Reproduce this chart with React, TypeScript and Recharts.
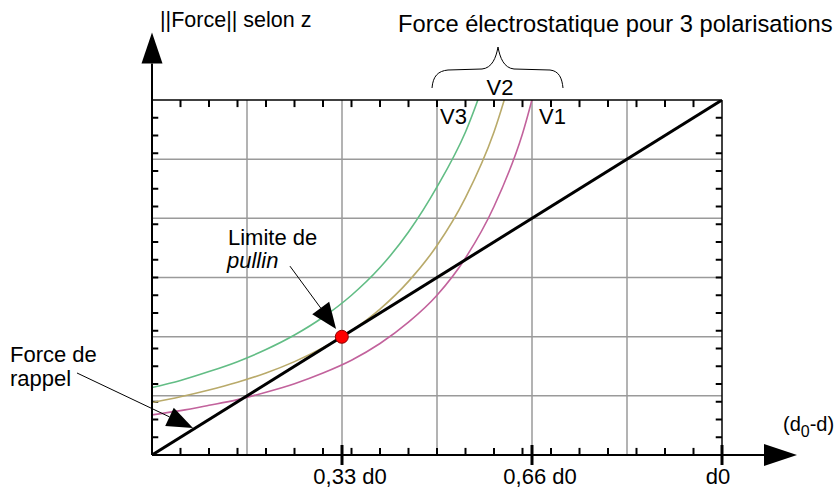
import React from 'react';
import {
  LineChart,
  Line,
  XAxis,
  YAxis,
  CartesianGrid,
  ReferenceLine,
  ReferenceDot,
} from 'recharts';

// positions along (d0 - d), as a fraction of d0
const xSteps = [0, 0.05, 0.1, 0.15, 0.2, 0.25, 0.3, 0.35, 0.4, 0.45, 0.5, 0.55, 0.6, 0.65, 0.7];
// electrostatic force for the three polarisations
const forceV3 = [0.19, 0.21, 0.235, 0.263, 0.297, 0.338, 0.388, 0.45, 0.528, 0.628, 0.755, 0.91, 1.13, null, null];
const forceV2 = [0.148, 0.164, 0.183, 0.205, 0.231, 0.263, 0.302, 0.35, 0.411, 0.489, 0.59, 0.725, 0.91, 1.18, null];
const forceV1 = [0.113, 0.125, 0.14, 0.156, 0.177, 0.201, 0.231, 0.267, 0.314, 0.374, 0.45, 0.555, 0.7, 0.905, 1.22];
// spring force (force de rappel)
const rappelX = [0, 1];
const rappelY = [0, 1];
// pull-in point
const pullinX = 0.333;
const pullinY = 0.333;

const gridSteps = [1 / 6, 2 / 6, 3 / 6, 4 / 6, 5 / 6];
const minorTicks = [0.05, 0.1, 0.15, 0.2, 0.25, 0.3, 0.35, 0.4, 0.45, 0.5, 0.55, 0.6, 0.65, 0.7, 0.75, 0.8, 0.85, 0.9, 0.95];
const majorTicks = [1 / 3, 2 / 3, 1];
const majorLabels = ['0,33 d0', '0,66 d0', 'd0'];

const curveData = xSteps.map((x, i) => ({ x, v1: forceV1[i], v2: forceV2[i], v3: forceV3[i] }));
const rappelData = rappelX.map((x, i) => ({ x, f: rappelY[i] }));

// inward tick length, as a fraction of each axis span
const TICK_X = 0.02;
const TICK_Y = 0.011;

const FONT = '"Liberation Sans", Arial, sans-serif';
const GRID = '#9a9a9a';

const renderMajorTick = (props: any) => {
  const { x, y, payload } = props;
  const mi = majorTicks.findIndex((m) => Math.abs(m - payload.value) < 1e-6);
  const dx = mi === 2 ? -4 : 8;
  return (
    <g>
      <line x1={x} y1={y - 10} x2={x} y2={y + 10} stroke="#000" strokeWidth={3} />
      <text x={x + dx} y={y + 29} textAnchor="middle" fontSize={22} fontFamily={FONT} fill="#000">
        {majorLabels[mi]}
      </text>
    </g>
  );
};

// short inward tick mark
const tickShape = (props: any) => (
  <g>
    <line x1={props.x1} y1={props.y1} x2={props.x2} y2={props.y2} stroke="#000" strokeWidth={2} />
  </g>
);

// line with a filled triangular head at its end
function arrow(headLen: number, headWidth: number, width: number) {
  return (props: any) => {
    const { x1, y1, x2, y2 } = props;
    const len = Math.hypot(x2 - x1, y2 - y1) || 1;
    const ux = (x2 - x1) / len;
    const uy = (y2 - y1) / len;
    const bx = x2 - ux * headLen;
    const by = y2 - uy * headLen;
    const px = (-uy * headWidth) / 2;
    const py = (ux * headWidth) / 2;
    return (
      <g>
        <line x1={x1} y1={y1} x2={bx} y2={by} stroke="#000" strokeWidth={width} />
        <polygon points={`${x2},${y2} ${bx + px},${by + py} ${bx - px},${by - py}`} fill="#000" />
      </g>
    );
  };
}

export default function App() {
  return (
    <div style={{ position: 'absolute', left: 0, top: 0, width: 838, height: 490, background: '#fff' }}>
      <LineChart
        width={838}
        height={490}
        margin={{ top: 100, right: 116, bottom: 35, left: 152 }}
      >
        <CartesianGrid
          stroke={GRID}
          strokeWidth={1.5}
          verticalCoordinatesGenerator={({ offset }: any) => gridSteps.map((v) => offset.left + offset.width * v)}
          horizontalCoordinatesGenerator={({ offset }: any) => gridSteps.map((v) => offset.top + offset.height * v)}
        />
        <XAxis
          dataKey="x"
          type="number"
          domain={[0, 1]}
          allowDataOverflow
          ticks={majorTicks}
          interval={0}
          mirror
          tickSize={0}
          tickMargin={0}
          tickLine={false}
          tick={renderMajorTick}
          axisLine={{ stroke: '#000', strokeWidth: 2 }}
        />
        <XAxis
          xAxisId="top"
          dataKey="x"
          orientation="top"
          type="number"
          domain={[0, 1]}
          allowDataOverflow
          mirror
          tick={false}
          tickLine={false}
          axisLine={{ stroke: '#000', strokeWidth: 1.5 }}
        />
        <YAxis
          type="number"
          domain={[0, 1]}
          allowDataOverflow
          mirror
          tick={false}
          tickLine={false}
          axisLine={{ stroke: '#000', strokeWidth: 2 }}
        />
        <YAxis
          yAxisId="right"
          orientation="right"
          type="number"
          domain={[0, 1]}
          allowDataOverflow
          mirror
          tick={false}
          tickLine={false}
          axisLine={{ stroke: '#000', strokeWidth: 1.5 }}
        />
        {minorTicks.map((v) => (
          <ReferenceLine key={`b${v}`} segment={[{ x: v, y: 0 }, { x: v, y: TICK_X }]} ifOverflow="visible" shape={tickShape} />
        ))}
        {minorTicks.map((v) => (
          <ReferenceLine key={`t${v}`} segment={[{ x: v, y: 1 }, { x: v, y: 1 - TICK_X }]} ifOverflow="visible" shape={tickShape} />
        ))}
        {minorTicks.map((v) => (
          <ReferenceLine key={`l${v}`} segment={[{ x: 0, y: v }, { x: TICK_Y, y: v }]} ifOverflow="visible" shape={tickShape} />
        ))}
        {minorTicks.map((v) => (
          <ReferenceLine key={`r${v}`} segment={[{ x: 1, y: v }, { x: 1 - TICK_Y, y: v }]} ifOverflow="visible" shape={tickShape} />
        ))}
        <Line data={curveData} dataKey="v3" type="monotone" stroke="#62bd85" strokeWidth={1.6} dot={false} isAnimationActive={false} />
        <Line data={curveData} dataKey="v2" type="monotone" stroke="#b9aa6a" strokeWidth={1.6} dot={false} isAnimationActive={false} />
        <Line data={curveData} dataKey="v1" type="monotone" stroke="#c2629c" strokeWidth={1.6} dot={false} isAnimationActive={false} />
        {/* spring force drawn on the top/right axes (same [0,1] domains) */}
        <Line
          data={rappelData}
          dataKey="f"
          xAxisId="top"
          yAxisId="right"
          type="linear"
          stroke="#000"
          strokeWidth={3}
          dot={false}
          isAnimationActive={false}
        />
        <ReferenceDot x={pullinX} y={pullinY} r={6.5} fill="#ff0000" stroke="#8a0000" strokeWidth={1} ifOverflow="visible" />
        <ReferenceLine segment={[{ x: 0, y: 1 }, { x: 0, y: 1.19 }]} ifOverflow="visible" shape={arrow(31, 21, 2)} />
        <ReferenceLine segment={[{ x: 1, y: 0 }, { x: 1.1316, y: 0 }]} ifOverflow="visible" shape={arrow(33, 22, 2)} />
        <ReferenceLine segment={[{ x: 0.242, y: 0.532 }, { x: 0.323, y: 0.355 }]} ifOverflow="visible" shape={arrow(26, 21, 1)} />
        <ReferenceLine segment={[{ x: -0.1316, y: 0.231 }, { x: 0.0719, y: 0.076 }]} ifOverflow="visible" shape={arrow(26, 20, 1)} />
      </LineChart>
      <svg
        width={838}
        height={490}
        style={{ position: 'absolute', left: 0, top: 0, pointerEvents: 'none' }}
        fontFamily={FONT}
        fill="#000"
      >
        <text x={160} y={27} fontSize={21.5}>||Force|| selon z</text>
        <text x={398} y={32} fontSize={23.7}>Force électrostatique pour 3 polarisations</text>
        <path
          d="M432,88 C433,76 438,71 448,70 L482,69 C492,68 496,58 498,47 C500,58 504,68 514,69 L550,70 C559,71 562,78 563,88"
          fill="none"
          stroke="#000"
          strokeWidth={1}
        />
        <text x={500} y={95} fontSize={22} textAnchor="middle">V2</text>
        <text x={440} y={124} fontSize={22}>V3</text>
        <text x={539} y={124} fontSize={22}>V1</text>
        <text x={228} y={245} fontSize={22}>Limite de</text>
        <text x={227} y={268} fontSize={22} fontStyle="italic">pullin</text>
        <text x={10} y={362} fontSize={22}>Force de</text>
        <text x={10} y={386} fontSize={22}>rappel</text>
        <text x={783} y={431} fontSize={20}>
          (d<tspan dy={6} fontSize={16}>0</tspan>
          <tspan dy={-6}>-d)</tspan>
        </text>
      </svg>
    </div>
  );
}
